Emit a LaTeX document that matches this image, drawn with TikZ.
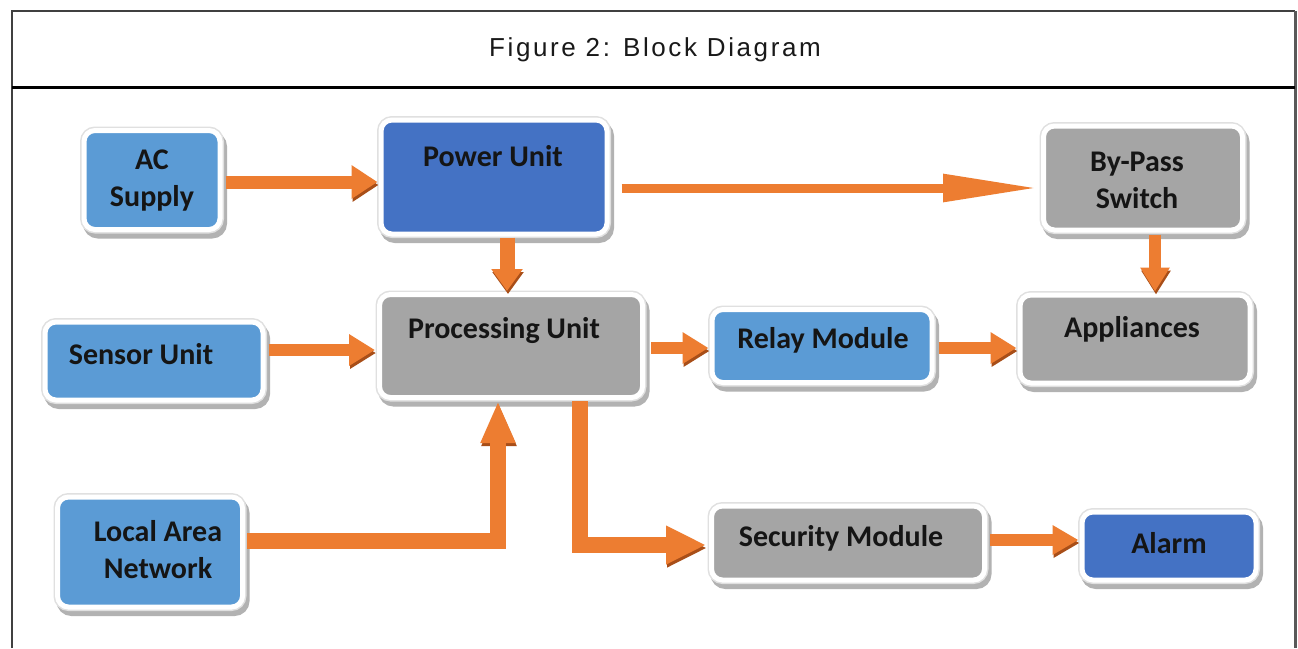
\documentclass[tikz,border=0pt]{standalone}
\usepackage{fontspec}
\setmainfont{Carlito}
\newfontfamily\titlefont[LetterSpace=10]{Liberation Sans}
\usetikzlibrary{arrows.meta}
\definecolor{lblue}{HTML}{5B9BD5}
\definecolor{dblue}{HTML}{4472C4}
\definecolor{gbox}{HTML}{A5A5A5}
\definecolor{orng}{HTML}{ED7D31}
\definecolor{orngdk}{HTML}{A84E18}
\definecolor{txt}{HTML}{151515}
\begin{document}
\begin{tikzpicture}[x=1pt,y=-1pt,
  blk/.style={rounded corners=11pt, fill=#1, draw=white, line width=5pt, inner sep=0pt,
    preaction={draw=black!30, fill=black!30, line width=8pt, transform canvas={shift={(3pt,-5pt)}}},
    preaction={draw=black!12, fill=black!12, line width=8pt}},
  lbl/.style={font=\fontsize{30}{37}\selectfont\bfseries, text=txt, align=center, inner sep=0pt},
  arr/.style={draw=orng, line width=#1, line join=miter,
    preaction={draw=orngdk, transform canvas={shift={(1pt,-3pt)}}}},
  arr/.default=13pt,
]
\useasboundingbox (0,0) rectangle (1298,648);
\fill[white] (0,0) rectangle (1298,648);

% frame
\draw[line width=1.5pt, black!75] (12,648) -- (12,11) -- (1295,11);
\draw[line width=3pt, black!65] (1295,11) -- (1295,648);
\draw[line width=3pt, black] (12,87) -- (1295,87);
\node[font={\titlefont\fontsize{26}{30}\selectfont}, text=black!90] (title) at (655,50) {Figure 2: Block Diagram};

% blocks
\node[blk=lblue, minimum width=136pt, minimum height=99pt] (ac) at (152,180) {};
\node[blk=dblue, minimum width=226pt, minimum height=114pt] (pu) at (494,177) {};
\node[blk=gbox,  minimum width=199pt, minimum height=104pt] (bp) at (1143,178) {};
\node[blk=gbox,  minimum width=263pt, minimum height=103pt] (pr) at (511,346) {};
\node[blk=lblue, minimum width=218pt, minimum height=78pt]  (su) at (154,361) {};
\node[blk=lblue, minimum width=220pt, minimum height=73pt]  (rm) at (822,346) {};
\node[blk=gbox,  minimum width=230pt, minimum height=88pt]  (ap) at (1135,339) {};
\node[blk=lblue, minimum width=185pt, minimum height=110pt] (lan) at (150,552) {};
\node[blk=gbox,  minimum width=273pt, minimum height=74pt]  (sm) at (848,543) {};
\node[blk=dblue, minimum width=174pt, minimum height=68pt]  (al) at (1169,546) {};

% labels
\node[lbl] (tac)  at (152,181) {AC\\Supply};
\node[lbl] (tpu)  at (493,156) {Power Unit};
\node[lbl] (tbp)  at (1137,180) {By-Pass\\Switch};
\node[lbl] (tpr)  at (504,331) {Processing Unit};
\node[lbl] (tsu)  at (141,354) {Sensor Unit};
\node[lbl] (trm)  at (823,340) {Relay Module};
\node[lbl] (tap)  at (1132,329) {Appliances};
\node[lbl] (tlan) at (158,550) {Local Area\\Network};
\node[lbl] (tsm)  at (841,538) {Security Module};
\node[lbl] (tal)  at (1169,543) {Alarm};

% arrows
\draw[arr, -{Triangle[width=32pt,length=26pt]}, shorten <=3pt, shorten >=1pt]
  (ac.east |- 0,182) -- (pu.west |- 0,182);
\draw[arr=9pt, -{Triangle[width=26pt,length=95pt]}, shorten <=12pt, shorten >=3pt]
  (pu.east |- 0,188) -- (bp.west |- 0,188);
\draw[arr=15pt, -{Triangle[width=30pt,length=22pt]}, shorten <=1pt, shorten >=1pt]
  (pu.south -| 507,0) -- (pr.north -| 507,0);
\draw[arr=12pt, -{Triangle[width=28pt,length=24pt]}, shorten <=2pt, shorten >=1pt]
  (bp.south -| 1155,0) -- (ap.north -| 1155,0);
\draw[arr=12pt, -{Triangle[width=30pt,length=26pt]}, shorten <=3pt, shorten >=2pt]
  (su.east |- 0,350) -- (pr.west |- 0,350);
\draw[arr=12pt, -{Triangle[width=30pt,length=26pt]}, shorten <=6pt, shorten >=1pt]
  (pr.east |- 0,348) -- (rm.west |- 0,348);
\draw[arr=12pt, -{Triangle[width=30pt,length=26pt]}, shorten <=4pt, shorten >=1pt]
  (rm.east |- 0,348) -- (ap.west |- 0,348);
\draw[arr=16pt, -{Triangle[width=32pt,length=42pt]}, shorten <=2pt, shorten >=1pt]
  (lan.east |- 0,541) -| (pr.south -| 498,0);
\draw[arr=16pt, -{Triangle[width=36pt,length=40pt]}, shorten <=1pt, shorten >=3pt]
  (pr.south -| 580,0) |- (sm.west |- 0,545);
\draw[arr=12pt, -{Triangle[width=28pt,length=26pt]}, shorten <=3pt, shorten >=1pt]
  (sm.east |- 0,540) -- (al.west |- 0,540);
\end{tikzpicture}
\end{document}
